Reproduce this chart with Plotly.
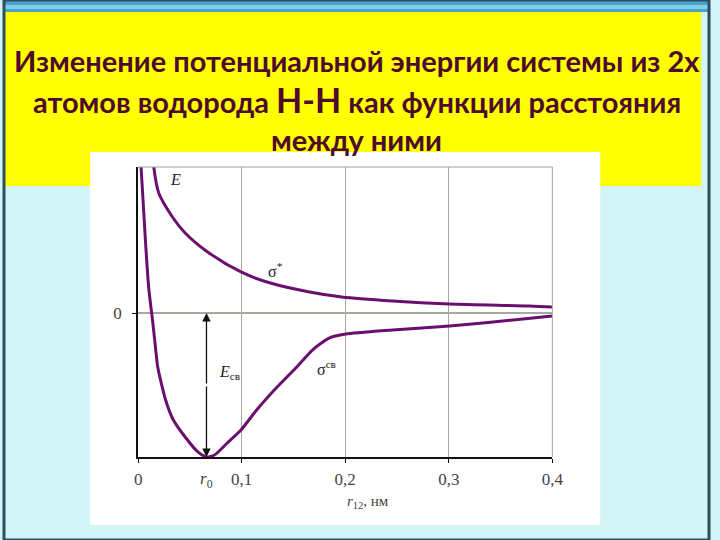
import plotly.graph_objects as go

# ---- data (x in nm, y in relative energy units; min = -1) ----
anti_r = [0.0151, 0.0199, 0.0331, 0.0454, 0.0671, 0.0993, 0.1277, 0.1655, 0.1967, 0.2459, 0.3007, 0.378, 0.4]
anti_e = [1.014, 0.833, 0.667, 0.556, 0.424, 0.285, 0.208, 0.146, 0.111, 0.083, 0.0625, 0.049, 0.042]

bond_r = [0.0028, 0.0057, 0.0076, 0.0104, 0.0142, 0.017, 0.0189, 0.0265, 0.034, 0.0454, 0.0577, 0.0662,
          0.0738, 0.086, 0.0993, 0.1144, 0.1333, 0.1522, 0.1683, 0.1844, 0.2005, 0.2459, 0.3007, 0.3716, 0.4]
bond_e = [1.014, 0.667, 0.4375, 0.160, -0.069, -0.257, -0.375, -0.604, -0.743, -0.861, -0.965, -1.0,
          -0.986, -0.903, -0.8125, -0.674, -0.521, -0.382, -0.257, -0.174, -0.146, -0.118, -0.090, -0.042, -0.021]

x_ticks = [0, 0.1, 0.2, 0.3, 0.4]
x_tick_labels = ["0", "0,1", "0,2", "0,3", "0,4"]
r0 = 0.066
e_min = -1.0

W, H = 720, 540
CURVE = "#6a0f6e"
SERIF = "Liberation Serif"


def px(x0, y0, x1, y1):
    """pixel box -> paper coords"""
    return dict(x0=x0 / W, x1=x1 / W, y0=1 - y1 / H, y1=1 - y0 / H)


fig = go.Figure()
fig.add_trace(go.Scatter(x=anti_r, y=anti_e, mode="lines",
                         line=dict(color=CURVE, width=3, shape="spline", smoothing=0.8),
                         hoverinfo="skip", showlegend=False))
fig.add_trace(go.Scatter(x=bond_r, y=bond_e, mode="lines",
                         line=dict(color=CURVE, width=3, shape="spline", smoothing=0.6),
                         hoverinfo="skip", showlegend=False))

shapes = []
# slide background pieces
shapes.append(dict(type="rect", xref="paper", yref="paper", layer="below",
                   fillcolor="#4aa3cc", line=dict(width=0), **px(0, 0, 720, 12)))
shapes.append(dict(type="rect", xref="paper", yref="paper", layer="below",
                   fillcolor="#7fd0e6", line=dict(width=0), **px(0, 5, 720, 9)))
shapes.append(dict(type="rect", xref="paper", yref="paper", layer="below",
                   fillcolor="#ffff00", line=dict(width=0), **px(0, 12, 712, 186)))
shapes.append(dict(type="rect", xref="paper", yref="paper", layer="below",
                   fillcolor="#ffffff", line=dict(width=0), **px(88, 152, 609, 525)))
shapes.append(dict(type="rect", xref="paper", yref="paper", layer="below",
                   fillcolor="rgba(0,0,0,0)", line=dict(color="#2f4f5f", width=3), **px(0, 0, 720, 540)))
# top and right thin frame of plot area
shapes.append(dict(type="line", xref="x domain", yref="y domain", x0=0, x1=1, y0=1, y1=1,
                   line=dict(color="#a0a0a0", width=1)))
shapes.append(dict(type="line", xref="x domain", yref="y domain", x0=1, x1=1, y0=0, y1=1,
                   line=dict(color="#a0a0a0", width=1)))
fig.update_layout(shapes=shapes)

ann = []
# title
TITLE_COL = "#4e0a2a"
TF = dict(family="Lato", size=29, color=TITLE_COL)
ann.append(dict(xref="paper", yref="paper", x=0.5, y=1 - 60 / H, yanchor="middle", showarrow=False,
                text="<b>Изменение потенциальной энергии системы из 2х</b>", font=TF))
ann.append(dict(xref="paper", yref="paper", x=0.5, y=1 - 100 / H, yanchor="middle", showarrow=False,
                text="<b>атомов водорода <span style='font-size:34px'>H-H</span> как функции расстояния</b>",
                font=TF))
ann.append(dict(xref="paper", yref="paper", x=0.5, y=1 - 139 / H, yanchor="middle", showarrow=False,
                text="<b>между ними</b>", font=TF))

# curve labels
LBL = dict(family=SERIF, size=16, color="#222222")
ann.append(dict(x=0.036, y=0.93, text="<i>E</i>", showarrow=False, font=LBL, yanchor="middle"))
ann.append(dict(x=0.133, y=0.30, text="σ<sup>*</sup>", showarrow=False, font=LBL, yanchor="middle"))
ann.append(dict(x=0.088, y=-0.41, text="<i>E</i><sub>св</sub>", showarrow=False, font=LBL, yanchor="middle"))
ann.append(dict(x=0.182, y=-0.38, text="σ<sup>св</sup>", showarrow=False, font=LBL, yanchor="middle"))

# double arrow for bond energy
for head, tail in [(0.0, -0.5), (e_min, -0.5)]:
    ann.append(dict(x=r0, y=head, ax=r0, ay=tail, axref="x", ayref="y", text="",
                    showarrow=True, arrowhead=2, arrowsize=1.3, arrowwidth=1.3, arrowcolor="#111111"))

# r0 label under axis and axis title
ann.append(dict(x=r0, xref="x", y=1 - 480 / H, yref="paper", yanchor="middle", text="<i>r</i><sub>0</sub>",
                showarrow=False, font=dict(family=SERIF, size=17, color="#444444")))
ann.append(dict(x=0.222, xref="x", y=1 - 502 / H, yref="paper", yanchor="middle",
                text="<i>r</i><sub>12</sub>, нм",
                showarrow=False, font=dict(family=SERIF, size=15, color="#444444")))
fig.update_layout(annotations=ann)

fig.update_layout(
    width=W, height=H, autosize=False,
    margin=dict(l=0, r=0, t=0, b=0),
    paper_bgcolor="#d3f5f8",
    plot_bgcolor="#ffffcc",
    xaxis=dict(domain=[137 / W, 560 / W], range=[0, 0.4], tickvals=x_ticks, ticktext=x_tick_labels,
               showgrid=True, gridcolor="#a8a8a0", gridwidth=1, zeroline=False,
               showline=True, linecolor="#111111", linewidth=2,
               ticks="outside", ticklen=4, tickcolor="#111111", ticklabelstandoff=2,
               tickfont=dict(family=SERIF, size=17, color="#444444")),
    yaxis=dict(domain=[1 - 457 / H, 1 - 167 / H], range=[-1.0, 1.014], tickvals=[0], ticktext=["0"],
               showgrid=False, zeroline=True, zerolinecolor="#a8a8a0", zerolinewidth=2,
               showline=True, linecolor="#111111", linewidth=2,
               ticks="outside", ticklen=4, tickcolor="#111111", ticklabelstandoff=7,
               tickfont=dict(family=SERIF, size=17, color="#444444")),
)

fig.write_html(
    "out.html",
    config={"displayModeBar": False, "responsive": False},
    post_script=("document.documentElement.style.overflow='hidden';"
                 "document.body.style.margin='0';document.body.style.overflow='hidden';"),
)
